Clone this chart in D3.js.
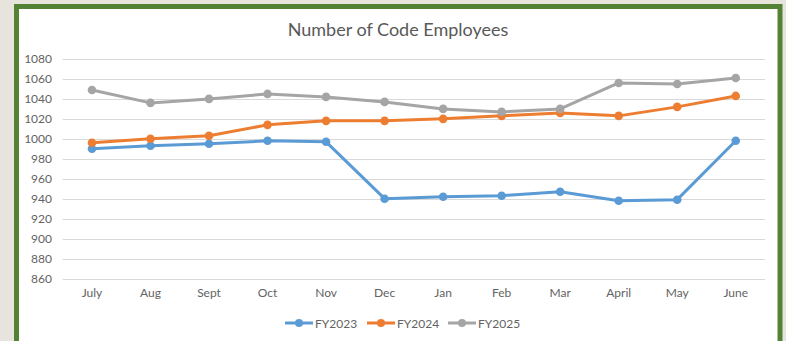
<!DOCTYPE html>
<html>
<head>
<meta charset="utf-8">
<script src="https://cdn.jsdelivr.net/npm/d3@7/dist/d3.min.js"></script>
<style>
  html, body { margin: 0; padding: 0; background: #e6e4dd; }
  svg { display: block; }
</style>
</head>
<body>
<svg id="chart" width="786" height="341"></svg>
<script>
// Monthly headcount by fiscal year
const months = ["July", "Aug", "Sept", "Oct", "Nov", "Dec", "Jan", "Feb", "Mar", "April", "May", "June"];
const fy2023 = [990, 993, 995, 998, 997, 940, 942, 943, 947, 938, 939, 998];
const fy2024 = [996, 1000, 1003, 1014, 1018, 1018, 1020, 1023, 1026, 1023, 1032, 1043];
const fy2025 = [1049, 1036, 1040, 1045, 1042, 1037, 1030, 1027, 1030, 1056, 1055, 1061];
const seriesNames = ["FY2023", "FY2024", "FY2025"];
const seriesColors = ["#5b9bd5", "#ed7d31", "#a5a5a5"];
const yTicks = [860, 880, 900, 920, 940, 960, 980, 1000, 1020, 1040, 1060, 1080];
const title = "Number of Code Employees";

const series = [fy2023, fy2024, fy2025].map((values, i) => ({
  name: seriesNames[i], color: seriesColors[i], values
}));

const svg = d3.select("#chart");
const font = "Lato, 'Open Sans', sans-serif";
const textColor = "#636363";

// Framed card
svg.append("rect").attr("x", 16.5).attr("y", 6.5).attr("width", 763.5).attr("height", 345)
  .attr("fill", "#ffffff").attr("stroke", "#548235").attr("stroke-width", 5);

const x = d3.scaleBand().domain(months).range([62.7, 765]).padding(0);
const y = d3.scaleLinear().domain([860, 1080]).range([278.5, 59]);

// Gridlines
svg.append("g").selectAll("line").data(yTicks).join("line")
  .attr("x1", x.range()[0]).attr("x2", x.range()[1])
  .attr("y1", d => Math.round(y(d)) + 0.5).attr("y2", d => Math.round(y(d)) + 0.5)
  .attr("stroke", "#d9d9d9").attr("stroke-width", 1);

// Y axis labels
const yAxis = d3.axisLeft(y).tickValues(yTicks).tickFormat(d3.format("d")).tickSize(0).tickPadding(0);
const yg = svg.append("g").attr("transform", "translate(52,0)").call(yAxis);
yg.select(".domain").remove();
yg.selectAll("text").attr("fill", textColor).style("font-family", font).style("font-size", "12px");

// X axis labels
const xAxis = d3.axisBottom(x).tickSize(0).tickPadding(0);
const xg = svg.append("g").attr("transform", "translate(0,288)").call(xAxis);
xg.select(".domain").remove();
xg.selectAll("text").attr("fill", textColor).style("font-family", font).style("font-size", "12px");

// Title
svg.append("text").attr("x", 398).attr("y", 36).attr("text-anchor", "middle")
  .attr("fill", "#595959").style("font-family", font).style("font-size", "18px")
  .text(title);

// Lines and markers
const cx = m => x(m) + x.bandwidth() / 2;
const line = d3.line().x((d, i) => cx(months[i])).y(d => y(d));

const sg = svg.append("g").selectAll("g").data(series).join("g");
sg.append("path").attr("d", d => line(d.values)).attr("fill", "none")
  .attr("stroke", d => d.color).attr("stroke-width", 3).attr("stroke-linejoin", "round");
sg.each(function (s) {
  d3.select(this).selectAll("circle").data(s.values).join("circle")
    .attr("cx", (d, i) => cx(months[i])).attr("cy", d => y(d)).attr("r", 4.3)
    .attr("fill", s.color);
});

// Legend
const legendX = [285, 367, 448];
const lg = svg.append("g").selectAll("g").data(series).join("g")
  .attr("transform", (d, i) => `translate(${legendX[i]},323)`);
lg.append("line").attr("x1", 0).attr("x2", 28).attr("y1", 0).attr("y2", 0)
  .attr("stroke", d => d.color).attr("stroke-width", 3);
lg.append("circle").attr("cx", 14).attr("cy", 0).attr("r", 4).attr("fill", d => d.color);
lg.append("text").attr("x", 30).attr("y", 4.5).attr("fill", textColor)
  .style("font-family", font).style("font-size", "12px").text(d => d.name);
</script>
</body>
</html>
